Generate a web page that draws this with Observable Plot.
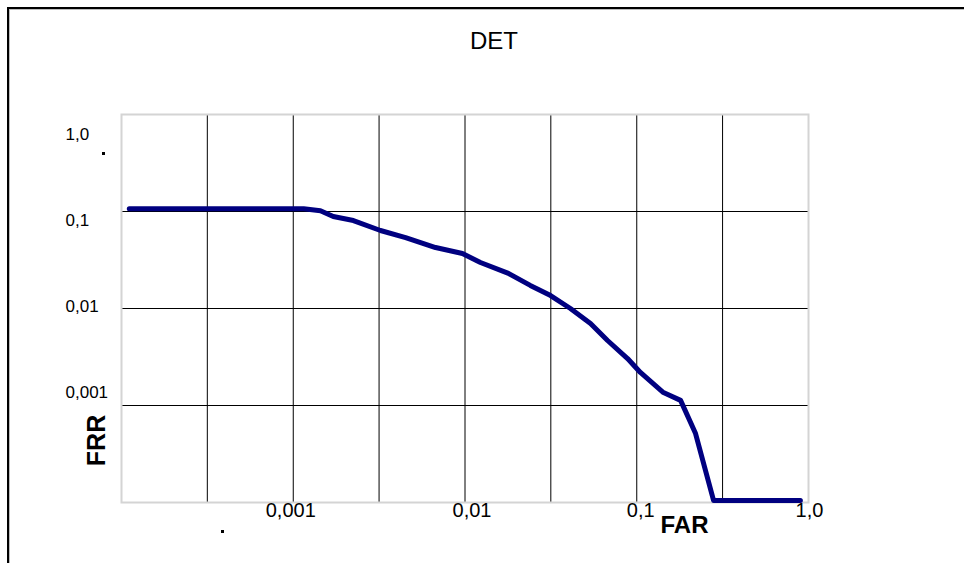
<!DOCTYPE html>
<html>
<head>
<meta charset="utf-8">
<script src="https://cdn.jsdelivr.net/npm/d3@7"></script>
<script src="https://cdn.jsdelivr.net/npm/@observablehq/plot@0.6"></script>
<style>
  html, body { margin: 0; padding: 0; background: #fff; overflow: hidden; }
  #wrap { position: relative; width: 964px; height: 563px; }
  #wrap svg { position: absolute; left: 0; top: 0; }
  #border { position: absolute; left: 7px; top: 7px; right: -20px; bottom: -20px;
            border-top: 2px solid #000; border-left: 2px solid #000;
            box-shadow: inset 1px 1px 0 #bdbdbd; pointer-events: none; }
</style>
</head>
<body>
<div id="wrap"><div id="border"></div></div>
<script>
// Data
const far = [1.11e-4, 1.15e-3, 1.44e-3, 1.71e-3, 2.24e-3, 3.22e-3, 4.51e-3, 6.74e-3, 9.66e-3, 0.0123, 0.0179, 0.0240, 0.0315, 0.0411, 0.0538, 0.0676, 0.0884, 0.105, 0.143, 0.180, 0.220, 0.280, 0.897];
const frr = [0.107, 0.107, 0.102, 0.0888, 0.0807, 0.0637, 0.0539, 0.0425, 0.0369, 0.0298, 0.0230, 0.0173, 0.0136, 0.0100, 0.0070, 0.00468, 0.00305, 0.00219, 0.00136, 0.00113, 0.000514, 0.000105, 0.000105];

// Grid and tick labels
const xGrid = [0.000316, 0.001, 0.00316, 0.01, 0.0316, 0.1, 0.316];
const yGrid = [0.1, 0.01, 0.001];
const xTickValues = [0.001, 0.01, 0.1, 1];
const xTickLabels = ["0,001", "0,01", "0,1", "1,0"];
const yTickValues = [1, 0.1, 0.01, 0.001];
const yTickLabels = ["1,0", "0,1", "0,01", "0,001"];
const title = "DET";
const xTitle = "FAR";
const yTitle = "FRR";

const data = far.map((f, i) => ({far: f, frr: frr[i]}));
const font = "Liberation Sans, Arial, sans-serif";

// per-label offsets (layout, as in the reference)
const yLabelDy = [20, 9, -2, -13];
const xLabelDx = [-2.5, 7, 4, 1];

const yLabelMarks = yTickValues.map((v, i) => Plot.text([v], {
  y: d => d, text: () => yTickLabels[i], frameAnchor: "left", textAnchor: "start",
  dx: -56, dy: yLabelDy[i], fontSize: 17, fill: "#000", lineAnchor: "middle"
}));
const xLabelMarks = xTickValues.map((v, i) => Plot.text([v], {
  x: d => d, text: () => xTickLabels[i], frameAnchor: "bottom", textAnchor: "middle",
  dx: xLabelDx[i], dy: 8, fontSize: 20, fill: "#000", lineAnchor: "middle"
}));

const chart = Plot.plot({
  width: 964,
  height: 563,
  marginLeft: 121,
  marginRight: 156,
  marginTop: 114,
  marginBottom: 61,
  style: {fontFamily: font, background: "transparent", overflow: "visible"},
  x: {type: "log", domain: [1e-4, 1], axis: null},
  y: {type: "log", domain: [1e-4, 1], axis: null},
  marks: [
    Plot.frame({fill: "#fff"}),
    Plot.ruleX(xGrid, {stroke: "#000", strokeWidth: 1}),
    Plot.ruleY(yGrid, {stroke: "#000", strokeWidth: 1}),
    Plot.frame({stroke: "#d4d4d4", strokeWidth: 2}),
    Plot.line(data, {x: "far", y: "frr", stroke: "#000080", strokeWidth: 5,
      strokeLinejoin: "round", strokeLinecap: "round"}),
    ...yLabelMarks,
    ...xLabelMarks,
    Plot.text([title], {text: d => d, frameAnchor: "top", dx: 29, dy: -73,
      fontSize: 24, fill: "#000", lineAnchor: "middle"}),
    Plot.text([xTitle], {text: d => d, frameAnchor: "bottom-right", dx: -124, dy: 23,
      fontSize: 24, fontWeight: "bold", fill: "#000", lineAnchor: "middle", textAnchor: "middle"}),
    Plot.text([yTitle], {text: d => d, frameAnchor: "bottom-left", dx: -25, dy: -62,
      rotate: -90, fontSize: 25, fontWeight: "bold", fill: "#000", lineAnchor: "middle", textAnchor: "middle"}),
    Plot.dot([0], {frameAnchor: "top-left", dx: -18, dy: 39, symbol: "square", r: 1.7, fill: "#000"}),
    Plot.dot([0], {frameAnchor: "bottom-left", dx: 101, dy: 29, symbol: "square", r: 1.7, fill: "#000"})
  ]
});
document.getElementById("wrap").prepend(chart);
</script>
</body>
</html>
